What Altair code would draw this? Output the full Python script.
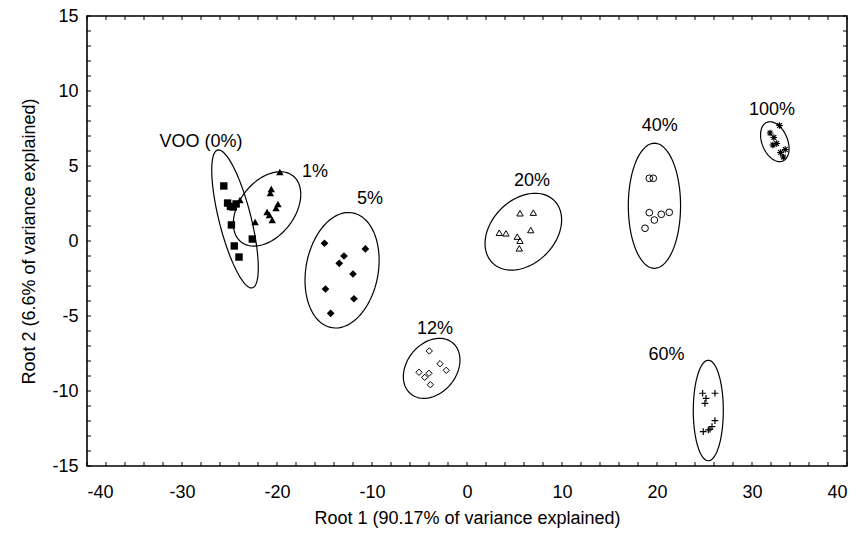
import altair as alt
import numpy as np
import pandas as pd

# ---- data ----
voo_x = [-25.6, -25.2, -24.9, -24.6, -24.3, -24.8, -24.5, -24.0, -22.6]
voo_y = [3.67, 2.53, 2.3, 2.27, 2.47, 1.07, -0.33, -1.07, 0.13]

p1_x = [-19.7, -20.6, -20.7, -19.9, -20.1, -21.05, -20.8, -20.5, -22.3, -23.9]
p1_y = [4.6, 3.47, 3.2, 2.47, 2.2, 1.93, 1.73, 1.4, 1.27, 2.73]

p5_x = [-15.0, -10.7, -12.95, -13.45, -12.0, -14.9, -11.9, -14.35]
p5_y = [-0.15, -0.53, -1.0, -1.49, -2.2, -3.2, -3.85, -4.82]

p12_x = [-3.97, -2.84, -2.18, -5.05, -4.0, -4.45, -3.86]
p12_y = [-7.33, -8.18, -8.62, -8.75, -8.82, -9.09, -9.58]

p20_x = [5.58, 6.98, 6.71, 3.4, 4.1, 5.29, 5.58, 5.5]
p20_y = [1.85, 1.89, 0.73, 0.55, 0.51, 0.29, 0.02, -0.49]

p40_x = [19.19, 19.61, 19.19, 19.72, 20.45, 21.29, 18.74]
p40_y = [4.18, 4.18, 1.89, 1.4, 1.78, 1.91, 0.85]

p60_x = [24.8, 25.16, 25.05, 26.1, 26.1, 25.79, 25.4, 24.87, 25.58]
p60_y = [-10.15, -10.49, -10.82, -10.15, -11.98, -12.38, -12.6, -12.71, -12.55]

p100_x = [32.9, 32.3, 31.9, 32.6, 33.5, 33.3, 33.0, 32.2]
p100_y = [7.7, 6.9, 7.2, 6.5, 6.1, 5.6, 5.9, 6.4]

# confidence ellipses: centre, half-extent in x and y, phase (tilt)
ell_group = ["VOO (0%)", "1%", "5%", "12%", "20%", "40%", "60%", "100%"]
ell_cx = [-24.42, -21.05, -13.15, -3.72, 5.93, 19.73, 25.4, 32.4]
ell_cy = [1.47, 2.14, -1.95, -8.49, 0.62, 2.35, -11.3, 6.62]
ell_ax = [2.45, 3.55, 3.9, 2.98, 4.03, 2.75, 1.58, 1.5]
ell_ay = [4.6, 2.48, 3.85, 2.0, 2.56, 4.17, 3.35, 1.33]
ell_phase = [135, 67, 80, 74, 72, 90, 90, 110]

lab_text = ["VOO (0%)", "1%", "5%", "12%", "20%", "40%", "60%", "100%"]
lab_x = [-28.0, -16.0, -10.2, -3.37, 6.84, 20.3, 21.0, 32.1]
lab_y = [6.6, 4.6, 2.8, -5.87, 4.0, 7.7, -7.6, 8.73]

x_ticks = [-40, -30, -20, -10, 0, 10, 20, 30, 40]
y_ticks = [-15, -10, -5, 0, 5, 10, 15]

# ---- build tables ----
def pts(xs, ys):
    return pd.DataFrame({"x": xs, "y": ys})

t = np.linspace(0, 2 * np.pi, 121)
rows = []
for g, cx, cy, ax_, ay_, ph in zip(ell_group, ell_cx, ell_cy, ell_ax, ell_ay, ell_phase):
    phr = np.deg2rad(ph)
    for i, tt in enumerate(t):
        rows.append({"g": g, "i": i, "x": cx + ax_ * np.cos(tt), "y": cy + ay_ * np.cos(tt - phr)})
ell_df = pd.DataFrame(rows)

labels_df = pd.DataFrame({"t": lab_text, "x": lab_x, "y": lab_y})

W, H = 760, 450
FONT = "Liberation Sans"
FS = 18
xs = alt.Scale(domain=[-40, 40], nice=False, zero=False)
ys = alt.Scale(domain=[-15, 15], nice=False, zero=False)

x_axis = alt.Axis(values=x_ticks, title="Root 1 (90.17% of variance explained)",
                  labelExpr="'' + datum.value",
                  grid=False, ticks=False, domain=False, labelFontSize=FS,
                  labelPadding=17, labelColor="black", labelFont=FONT,
                  titleFont=FONT, titleFontSize=FS, titleFontWeight="normal",
                  titleColor="black", titleY=52, titleBaseline="middle")
y_axis = alt.Axis(values=y_ticks, title="Root 2 (6.6% of variance explained)",
                  labelExpr="'' + datum.value",
                  grid=False, ticks=False, domain=False, labelFontSize=FS,
                  labelPadding=9, labelColor="black", labelFont=FONT,
                  titleFont=FONT, titleFontSize=FS, titleFontWeight="normal",
                  titleColor="black", titleX=-58, titleBaseline="middle")

X = alt.X("x:Q", scale=xs, axis=x_axis)
Y = alt.Y("y:Q", scale=ys, axis=y_axis)

ellipses = alt.Chart(ell_df).mark_line(color="black", strokeWidth=1.2).encode(
    x=X, y=Y, detail="g:N", order="i:Q")

def scat(xs_, ys_, **kw):
    return alt.Chart(pts(xs_, ys_)).mark_point(**kw).encode(x=X, y=Y)

plus_path = "M-1,0H1M0,-1V1"
star_path = "M-1,0H1M0,-1V1M-0.7,-0.7L0.7,0.7M-0.7,0.7L0.7,-0.7"

layers = [
    ellipses,
    scat(voo_x, voo_y, shape="square", filled=True, color="black", size=55, opacity=1),
    scat(p1_x, p1_y, shape="triangle-up", filled=True, color="black", size=55, opacity=1),
    scat(p5_x, p5_y, shape="diamond", filled=True, color="black", size=60, opacity=1),
    scat(p12_x, p12_y, shape="diamond", filled=False, color="black", size=40, strokeWidth=1, opacity=1),
    scat(p20_x, p20_y, shape="triangle-up", filled=False, color="black", size=40, strokeWidth=1, opacity=1),
    scat(p40_x, p40_y, shape="circle", filled=False, color="black", size=45, strokeWidth=1, opacity=1),
    scat(p60_x, p60_y, shape=plus_path, filled=False, color="black", size=45, strokeWidth=1.2, opacity=1),
    scat(p100_x, p100_y, shape=star_path, filled=False, color="black", size=45, strokeWidth=1.2, opacity=1),
    alt.Chart(labels_df).mark_text(font=FONT, fontSize=FS, color="black").encode(x=X, y=Y, text="t:N"),
]

# inward tick marks on all four sides
xt_minor = pd.DataFrame({"x": list(range(-40, 41, 2))})
yt_minor = pd.DataFrame({"y": list(range(-15, 16, 1))})
layers += [
    alt.Chart(xt_minor).mark_rule(color="black", strokeWidth=1).encode(
        x=X, y=alt.value(H), y2=alt.value(H - 4)),
    alt.Chart(xt_minor).mark_rule(color="black", strokeWidth=1).encode(
        x=X, y=alt.value(0), y2=alt.value(4)),
    alt.Chart(yt_minor).mark_rule(color="black", strokeWidth=1).encode(
        y=Y, x=alt.value(0), x2=alt.value(4)),
    alt.Chart(yt_minor).mark_rule(color="black", strokeWidth=1).encode(
        y=Y, x=alt.value(W), x2=alt.value(W - 4)),
]

chart = alt.layer(*layers).properties(
    width=W, height=H,
    autosize=alt.AutoSizeParams(type="none"),
    padding={"left": 87, "top": 16, "right": 12, "bottom": 67},
    background="white",
).configure_view(stroke="black", strokeWidth=1.6)

chart.save("out.html", embed_options={"renderer": "svg", "actions": False})
